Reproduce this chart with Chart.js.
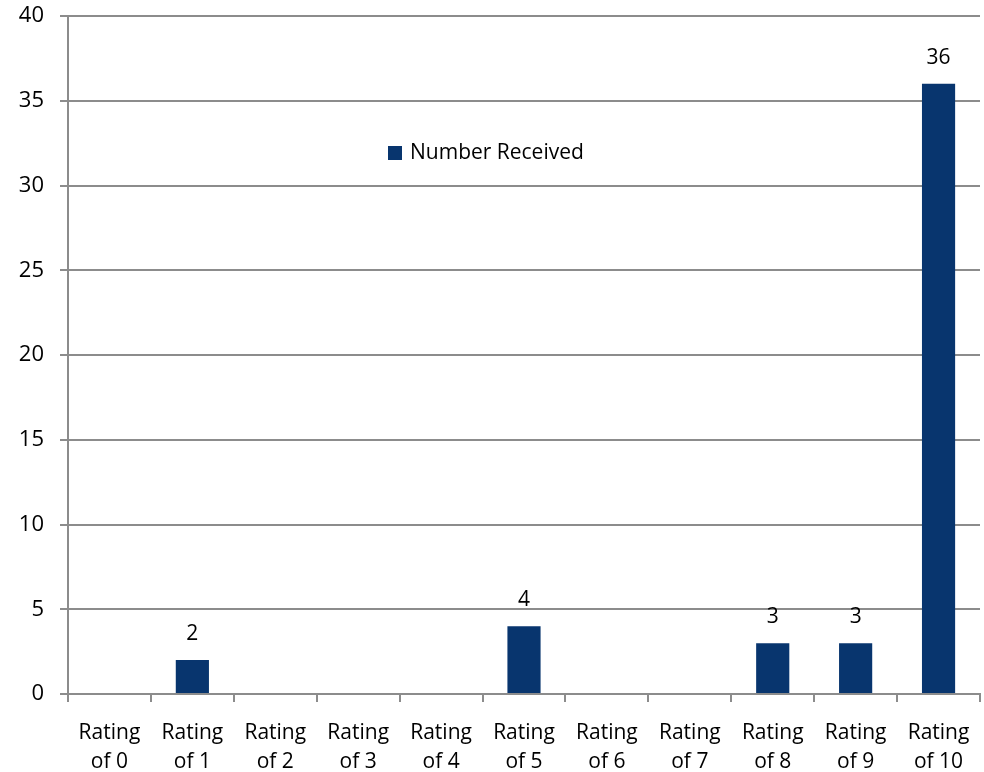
<!DOCTYPE html>
<html>
<head>
<meta charset="utf-8">
<script src="https://cdn.jsdelivr.net/npm/chart.js@4.4.1/dist/chart.umd.min.js"></script>
<style>
  html, body { margin: 0; padding: 0; background: #fff; }
  #wrap { width: 984px; height: 772px; }
</style>
</head>
<body>
<div id="wrap"><canvas id="chart"></canvas></div>
<script>
const categories = [
  ['Rating', 'of 0'], ['Rating', 'of 1'], ['Rating', 'of 2'], ['Rating', 'of 3'],
  ['Rating', 'of 4'], ['Rating', 'of 5'], ['Rating', 'of 6'], ['Rating', 'of 7'],
  ['Rating', 'of 8'], ['Rating', 'of 9'], ['Rating', 'of 10']
]
const numberReceived = [0, 2, 0, 0, 0, 4, 0, 0, 3, 3, 36]
const yTicks = [0, 5, 10, 15, 20, 25, 30, 35, 40]

const barColor = '#08356e'
const gridColor = '#8c8c8c'
const fontFamily = '"Open Sans", "Noto Sans", sans-serif'

// value labels above non-zero bars
const valueLabels = {
  id: 'valueLabels',
  afterDatasetsDraw(chart) {
    const ctx = chart.ctx
    const meta = chart.getDatasetMeta(0)
    ctx.save()
    ctx.font = '21px ' + fontFamily
    ctx.fillStyle = '#000'
    ctx.textAlign = 'center'
    ctx.textBaseline = 'middle'
    meta.data.forEach((bar, i) => {
      const v = numberReceived[i]
      if (!v) return
      ctx.fillText(String(v), bar.x, bar.y - 26)
    })
    ctx.restore()
  }
}

// legend drawn inside the plot area
const innerLegend = {
  id: 'innerLegend',
  afterDraw(chart) {
    const ctx = chart.ctx
    const area = chart.chartArea
    const x = area.left + 320
    const y = area.top + 137
    ctx.save()
    ctx.fillStyle = barColor
    ctx.fillRect(x, y - 7, 14, 14)
    ctx.font = '21px ' + fontFamily
    ctx.fillStyle = '#000'
    ctx.textAlign = 'left'
    ctx.textBaseline = 'middle'
    ctx.fillText(chart.data.datasets[0].label, x + 22, y)
    ctx.restore()
  }
}

new Chart(document.getElementById('chart'), {
  type: 'bar',
  data: {
    labels: categories,
    datasets: [{
      label: 'Number Received',
      data: numberReceived,
      backgroundColor: barColor,
      barPercentage: 0.4,
      categoryPercentage: 1
    }]
  },
  plugins: [valueLabels, innerLegend],
  options: {
    responsive: true,
    maintainAspectRatio: false,
    animation: false,
    layout: { padding: { top: 16, right: 4, left: 0, bottom: 0 } },
    plugins: {
      legend: { display: false },
      tooltip: { enabled: false }
    },
    scales: {
      x: {
        offset: true,
        grid: {
          offset: true,
          drawOnChartArea: false,
          color: gridColor,
          tickLength: 8,
          lineWidth: 2
        },
        border: { color: gridColor, width: 2 },
        ticks: {
          color: '#000',
          font: { family: fontFamily, size: 21, lineHeight: 1.35 },
          maxRotation: 0,
          autoSkip: false,
          padding: 17
        },
        afterFit(scale) {
          scale.height = 78
          scale.paddingRight = 0
          scale.paddingLeft = 0
        }
      },
      y: {
        min: 0,
        max: 40,
        afterBuildTicks(scale) { scale.ticks = yTicks.map(v => ({ value: v })) },
        grid: {
          color: gridColor,
          tickLength: 8,
          lineWidth: 2
        },
        border: { color: gridColor, width: 2 },
        ticks: {
          color: '#000',
          font: { family: fontFamily, size: 22 },
          padding: 16
        },
        afterFit(scale) {
          scale.width = 68
          scale.paddingTop = 0
          scale.paddingBottom = 0
        }
      }
    }
  }
})
</script>
</body>
</html>
